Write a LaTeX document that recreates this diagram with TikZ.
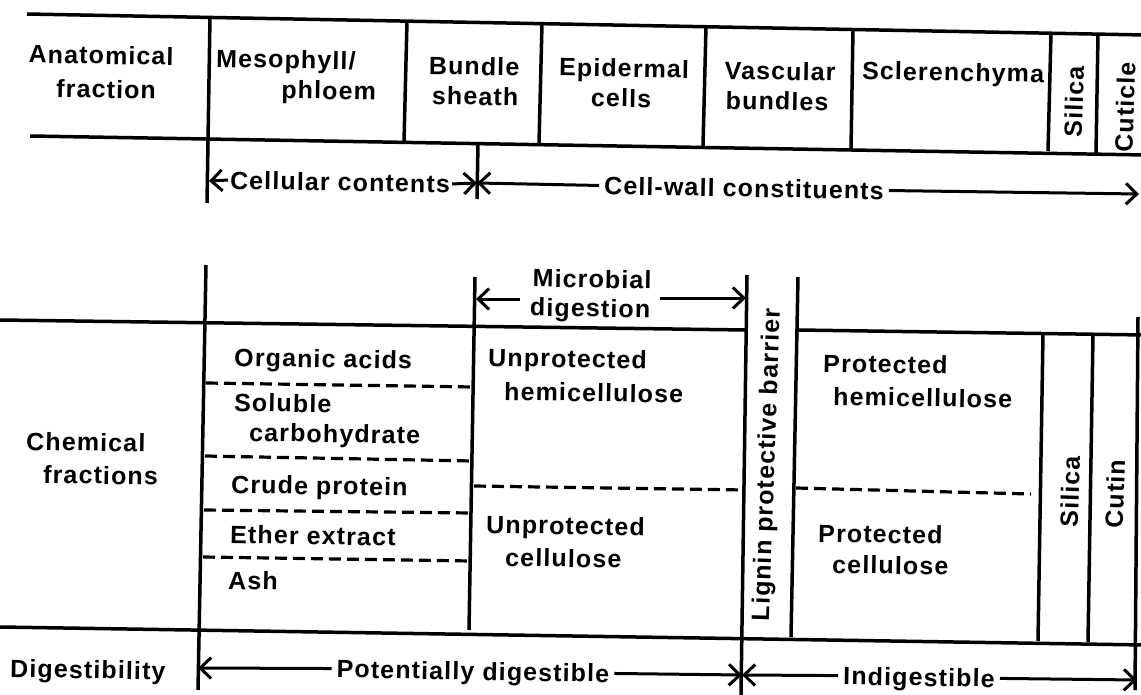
\documentclass[tikz,border=0pt]{standalone}
\usepackage{fontspec}
\setmainfont{Liberation Sans}[LetterSpace=4.5]
\usetikzlibrary{arrows.meta}
\begin{document}
\begin{tikzpicture}[x=1pt,y=-1pt,
  ln/.style={line width=3.5pt},
  dsh/.style={line width=3.2pt, dash pattern=on 12pt off 6pt},
  arr/.style={line width=3pt, -{Straight Barb[length=11pt,width=21pt]}},
  txt/.style={font=\fontsize{25}{30}\selectfont\bfseries, inner sep=0pt, rotate=-1},
  tl/.style={txt, anchor=base west},
  tc/.style={txt, anchor=base},
  tr/.style={txt, anchor=base east},
  vt/.style={txt, anchor=center, rotate=89},
  lab/.style={txt, anchor=center, text height=18pt, text depth=0pt, inner xsep=5pt}
]
\useasboundingbox (0,0) rectangle (1141,695);
\clip (0,0) rectangle (1141,695);

% ---------- anatomical table ----------
\draw[ln] (27,14) -- (1145,35);
\draw[ln] (30,136) -- (1145,155);
\draw[ln] (210,17) -- (207,203);
\draw[ln] (407,21) -- (404,142);
\draw[ln] (542,24) -- (539,144);
\draw[ln] (706,27) -- (703,146);
\draw[ln] (853,30) -- (851,149);
\draw[ln] (1051,33) -- (1048,151);
\draw[ln] (1098,34) -- (1096,153);
\draw[ln] (478,143) -- (477,199);

\node[tc] (anat1) at (101,64) {Anatomical};
\node[tc] (anat2) at (106,98) {fraction};
\node[tl] (meso1) at (216,67) {Mesophyll/};
\node[tr] (meso2) at (376,100) {phloem};
\node[tc] (bund1) at (474,75) {Bundle};
\node[tc] (bund2) at (475,105) {sheath};
\node[tc] (epi1) at (624,77) {Epidermal};
\node[tc] (epi2) at (621,107) {cells};
\node[tc] (vas1) at (780,80) {Vascular};
\node[tc] (vas2) at (777,110) {bundles};
\node[tc] (scl) at (953,81) {Sclerenchyma};
\node[vt] (sil1) at (1074,102) {Silica};
\node[vt] (cut1) at (1125,107) {Cuticle};

\coordinate (a1) at (209,181);
\coordinate (a2) at (477,183);
\coordinate (a3) at (1139,194);
\node[lab, inner xsep=2pt] (cc) at (340,182) {Cellular contents};
\node[lab] (cw) at (744,188) {Cell-wall constituents};
\draw[arr] (cc.west) -- (a1);
\draw[arr] (cc.east) -- (a2);
\draw[arr] (cw.west) -- (a2);
\draw[arr] (cw.east) -- (a3);

% ---------- chemical table ----------
\draw[ln] (0,320) -- (747,330);
\draw[ln] (798,330) -- (1145,335);
\draw[ln] (0,627) -- (1145,645);
\draw[ln] (206,265) -- (198,690);
\draw[ln] (475,277) -- (469,630);
\draw[ln] (747,275) -- (741,695);
\draw[ln] (798,277) -- (791,637);
\draw[ln] (1043,334) -- (1038,641);
\draw[ln] (1093,335) -- (1088,642);
\draw[ln] (1138,317) -- (1135,690);

\draw[dsh] (206,383) -- (474,387);
\draw[dsh] (205,456) -- (473,461);
\draw[dsh] (204,510) -- (472,513);
\draw[dsh] (203,557) -- (471,561);
\draw[dsh] (474,486) -- (745,490);
\draw[dsh] (796,488) -- (1031,494);

\node[tc] (mic1) at (592,288) {Microbial};
\node[tc, inner xsep=10pt] (mic2) at (590,317) {digestion};
\coordinate (m1) at (476,299);
\coordinate (m2) at (746,298);
\draw[arr] (mic2.west |- m1) -- (m1);
\draw[arr] (mic2.east |- m2) -- (m2);

\node[tl] (chem1) at (26,450) {Chemical};
\node[tl] (chem2) at (43,483) {fractions};

\node[tl] (oa) at (234,366) {Organic acids};
\node[tl] (sc1) at (234,411) {Soluble};
\node[tl] (sc2) at (249,441) {carbohydrate};
\node[tl] (cp) at (231,493) {Crude protein};
\node[tl] (ee) at (230,543) {Ether extract};
\node[tl] (ash) at (228,589) {Ash};

\node[tl] (uh1) at (488,366) {Unprotected};
\node[tl] (uh2) at (504,400) {hemicellulose};
\node[tl] (uc1) at (486,533) {Unprotected};
\node[tl] (uc2) at (505,566) {cellulose};

\node[tl] (ph1) at (823,372) {Protected};
\node[tl] (ph2) at (833,405) {hemicellulose};
\node[tl] (pc1) at (818,542) {Protected};
\node[tl] (pc2) at (832,573) {cellulose};

\node[vt] (lig) at (768,465) {Lignin protective barrier};
\node[vt] (sil2) at (1070,492) {Silica};
\node[vt] (cut2) at (1115,494) {Cutin};

% ---------- digestibility ----------
\node[tl] (dig) at (10,677) {Digestibility};
\coordinate (b1) at (198,668);
\coordinate (b2) at (742,675);
\coordinate (b3) at (1137,680);
\node[lab] (pd) at (473,671) {Potentially digestible};
\node[lab] (ind) at (919,677) {Indigestible};
\draw[arr] (pd.west) -- (b1);
\draw[arr] (pd.east) -- (b2);
\draw[arr] (ind.west) -- (b2);
\draw[arr] (ind.east) -- (b3);
\end{tikzpicture}
\end{document}
